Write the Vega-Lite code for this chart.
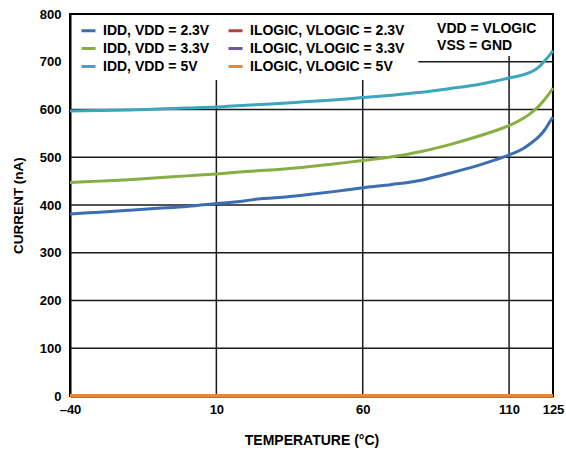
{
  "$schema": "https://vega.github.io/schema/vega-lite/v6.json",
  "width": 483,
  "height": 382,
  "autosize": {"type": "none"},
  "padding": {"left": 70, "top": 14, "right": 13, "bottom": 56},
  "background": "white",
  "config": {
    "view": {"stroke": "black", "strokeWidth": 2},
    "font": "Liberation Sans",
    "axis": {
      "grid": false,
      "ticks": false,
      "domainColor": "black",
      "domainWidth": 2,
      "labelFont": "Liberation Sans",
      "labelFontWeight": "bold",
      "labelFontSize": 13,
      "labelColor": "black",
      "titleFont": "Liberation Sans",
      "titleFontWeight": "bold",
      "titleColor": "black"
    }
  },
  "layer": [
    {
      "data": {"values": [
        {"t": 10, "v1": 0, "v2": 662},
        {"t": 60, "v1": 0, "v2": 662},
        {"t": 110, "v1": 0, "v2": 712}
      ]},
      "mark": {"type": "rule", "color": "#1a1a1a", "strokeWidth": 1.5},
      "encoding": {
        "x": {"field": "t", "type": "quantitative", "scale": {"domain": [-40, 125], "nice": false, "zero": false}},
        "y": {"field": "v1", "type": "quantitative", "scale": {"domain": [0, 800], "nice": false}},
        "y2": {"field": "v2"}
      }
    },
    {
      "data": {"values": [
        {"v": 100, "t1": -40, "t2": 125},
        {"v": 200, "t1": -40, "t2": 125},
        {"v": 300, "t1": -40, "t2": 125},
        {"v": 400, "t1": -40, "t2": 125},
        {"v": 500, "t1": -40, "t2": 125},
        {"v": 600, "t1": -40, "t2": 125},
        {"v": 700, "t1": 79, "t2": 125}
      ]},
      "mark": {"type": "rule", "color": "#1a1a1a", "strokeWidth": 1.5},
      "encoding": {
        "y": {"field": "v", "type": "quantitative"},
        "x": {"field": "t1", "type": "quantitative"},
        "x2": {"field": "t2"}
      }
    },
    {
      "data": {"values": [
        {"s": "IDD, VDD = 2.3V", "t": -40, "i": 381},
        {"s": "IDD, VDD = 2.3V", "t": -30, "i": 385},
        {"s": "IDD, VDD = 2.3V", "t": -20, "i": 389},
        {"s": "IDD, VDD = 2.3V", "t": -10, "i": 393},
        {"s": "IDD, VDD = 2.3V", "t": 0, "i": 397},
        {"s": "IDD, VDD = 2.3V", "t": 10, "i": 403},
        {"s": "IDD, VDD = 2.3V", "t": 20, "i": 409},
        {"s": "IDD, VDD = 2.3V", "t": 25, "i": 413},
        {"s": "IDD, VDD = 2.3V", "t": 30, "i": 415},
        {"s": "IDD, VDD = 2.3V", "t": 40, "i": 421},
        {"s": "IDD, VDD = 2.3V", "t": 50, "i": 428},
        {"s": "IDD, VDD = 2.3V", "t": 60, "i": 436},
        {"s": "IDD, VDD = 2.3V", "t": 70, "i": 443},
        {"s": "IDD, VDD = 2.3V", "t": 80, "i": 452},
        {"s": "IDD, VDD = 2.3V", "t": 90, "i": 467},
        {"s": "IDD, VDD = 2.3V", "t": 100, "i": 484},
        {"s": "IDD, VDD = 2.3V", "t": 105, "i": 494},
        {"s": "IDD, VDD = 2.3V", "t": 110, "i": 505},
        {"s": "IDD, VDD = 2.3V", "t": 115, "i": 519},
        {"s": "IDD, VDD = 2.3V", "t": 118, "i": 532},
        {"s": "IDD, VDD = 2.3V", "t": 120, "i": 542},
        {"s": "IDD, VDD = 2.3V", "t": 122, "i": 556},
        {"s": "IDD, VDD = 2.3V", "t": 124, "i": 575},
        {"s": "IDD, VDD = 2.3V", "t": 125, "i": 584},

        {"s": "IDD, VDD = 3.3V", "t": -40, "i": 447},
        {"s": "IDD, VDD = 3.3V", "t": -30, "i": 450},
        {"s": "IDD, VDD = 3.3V", "t": -20, "i": 453},
        {"s": "IDD, VDD = 3.3V", "t": -10, "i": 457},
        {"s": "IDD, VDD = 3.3V", "t": 0, "i": 461},
        {"s": "IDD, VDD = 3.3V", "t": 10, "i": 465},
        {"s": "IDD, VDD = 3.3V", "t": 20, "i": 470},
        {"s": "IDD, VDD = 3.3V", "t": 30, "i": 474},
        {"s": "IDD, VDD = 3.3V", "t": 40, "i": 479},
        {"s": "IDD, VDD = 3.3V", "t": 50, "i": 486},
        {"s": "IDD, VDD = 3.3V", "t": 60, "i": 493},
        {"s": "IDD, VDD = 3.3V", "t": 70, "i": 501},
        {"s": "IDD, VDD = 3.3V", "t": 80, "i": 512},
        {"s": "IDD, VDD = 3.3V", "t": 90, "i": 527},
        {"s": "IDD, VDD = 3.3V", "t": 100, "i": 545},
        {"s": "IDD, VDD = 3.3V", "t": 105, "i": 555},
        {"s": "IDD, VDD = 3.3V", "t": 110, "i": 566},
        {"s": "IDD, VDD = 3.3V", "t": 115, "i": 582},
        {"s": "IDD, VDD = 3.3V", "t": 118, "i": 595},
        {"s": "IDD, VDD = 3.3V", "t": 120, "i": 606},
        {"s": "IDD, VDD = 3.3V", "t": 122, "i": 620},
        {"s": "IDD, VDD = 3.3V", "t": 124, "i": 636},
        {"s": "IDD, VDD = 3.3V", "t": 125, "i": 645},

        {"s": "IDD, VDD = 5V", "t": -40, "i": 597},
        {"s": "IDD, VDD = 5V", "t": -30, "i": 598},
        {"s": "IDD, VDD = 5V", "t": -20, "i": 599},
        {"s": "IDD, VDD = 5V", "t": -10, "i": 601},
        {"s": "IDD, VDD = 5V", "t": 0, "i": 603},
        {"s": "IDD, VDD = 5V", "t": 10, "i": 605},
        {"s": "IDD, VDD = 5V", "t": 20, "i": 609},
        {"s": "IDD, VDD = 5V", "t": 30, "i": 612},
        {"s": "IDD, VDD = 5V", "t": 40, "i": 616},
        {"s": "IDD, VDD = 5V", "t": 50, "i": 620},
        {"s": "IDD, VDD = 5V", "t": 60, "i": 625},
        {"s": "IDD, VDD = 5V", "t": 70, "i": 630},
        {"s": "IDD, VDD = 5V", "t": 80, "i": 636},
        {"s": "IDD, VDD = 5V", "t": 90, "i": 644},
        {"s": "IDD, VDD = 5V", "t": 100, "i": 653},
        {"s": "IDD, VDD = 5V", "t": 105, "i": 659},
        {"s": "IDD, VDD = 5V", "t": 110, "i": 666},
        {"s": "IDD, VDD = 5V", "t": 115, "i": 673},
        {"s": "IDD, VDD = 5V", "t": 118, "i": 680},
        {"s": "IDD, VDD = 5V", "t": 120, "i": 688},
        {"s": "IDD, VDD = 5V", "t": 122, "i": 701},
        {"s": "IDD, VDD = 5V", "t": 124, "i": 715},
        {"s": "IDD, VDD = 5V", "t": 125, "i": 723},

        {"s": "ILOGIC, VLOGIC = 2.3V", "t": -40, "i": 1},
        {"s": "ILOGIC, VLOGIC = 2.3V", "t": 125, "i": 1},
        {"s": "ILOGIC, VLOGIC = 3.3V", "t": -40, "i": 1},
        {"s": "ILOGIC, VLOGIC = 3.3V", "t": 125, "i": 1},
        {"s": "ILOGIC, VLOGIC = 5V", "t": -40, "i": 1},
        {"s": "ILOGIC, VLOGIC = 5V", "t": 125, "i": 1}
      ]},
      "mark": {"type": "line", "strokeWidth": 3, "interpolate": "monotone"},
      "encoding": {
        "x": {
          "field": "t", "type": "quantitative",
          "axis": {
            "values": [-40, 10, 60, 110, 125],
            "title": "TEMPERATURE (°C)",
            "titleFontSize": 14,
            "labelPadding": 7,
            "titlePadding": 17,
            "labelFlush": false,
            "labelOverlap": false,
            "labelExpr": "datum.value < 0 ? '–' + abs(datum.value) : datum.label"
          }
        },
        "y": {
          "field": "i", "type": "quantitative",
          "axis": {
            "values": [0, 100, 200, 300, 400, 500, 600, 700, 800],
            "title": "CURRENT (nA)",
            "titleFontSize": 13.5,
            "labelPadding": 9,
            "titlePadding": 14,
            "labelFlush": false
          }
        },
        "color": {
          "field": "s", "type": "nominal",
          "scale": {
            "domain": ["IDD, VDD = 2.3V", "IDD, VDD = 3.3V", "IDD, VDD = 5V", "ILOGIC, VLOGIC = 2.3V", "ILOGIC, VLOGIC = 3.3V", "ILOGIC, VLOGIC = 5V"],
            "range": ["#3d6db2", "#87ae43", "#3ba6bd", "#b5413d", "#6b559f", "#e8863a"]
          },
          "legend": {
            "title": null,
            "orient": "none",
            "legendX": 10,
            "legendY": 8,
            "columns": 2,
            "columnPadding": 12,
            "rowPadding": 2,
            "padding": 0,
            "symbolType": "stroke",
            "symbolSize": 196,
            "symbolStrokeWidth": 3,
            "labelFont": "Liberation Sans",
            "labelFontWeight": "bold",
            "labelFontSize": 14,
            "labelColor": "black",
            "labelOffset": 6,
            "labelLimit": 300
          }
        }
      }
    },
    {
      "data": {"values": [
        {"label": "VDD = VLOGIC", "t": 85.4, "v": 769},
        {"label": "VSS = GND", "t": 85.4, "v": 733}
      ]},
      "mark": {"type": "text", "align": "left", "baseline": "middle", "font": "Liberation Sans", "fontWeight": "bold", "fontSize": 14, "color": "black"},
      "encoding": {
        "x": {"field": "t", "type": "quantitative"},
        "y": {"field": "v", "type": "quantitative"},
        "text": {"field": "label"}
      }
    }
  ]
}
